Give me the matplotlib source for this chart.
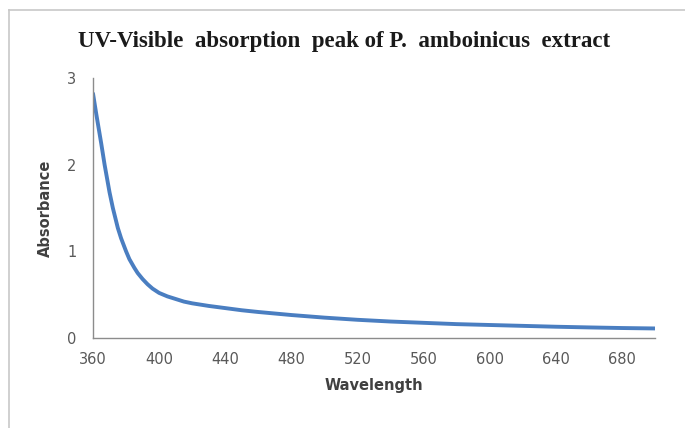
import numpy as np
import matplotlib
matplotlib.use("Agg")
import matplotlib.pyplot as plt
from matplotlib.lines import Line2D

# data
wavelength = [360, 362, 365, 367, 370, 372, 375, 377, 380, 382, 385, 387, 390, 393,
              396, 400, 405, 410, 415, 420, 430, 440, 450, 460, 480, 500, 520, 540,
              560, 580, 600, 620, 640, 660, 680, 700]
absorbance = [2.82, 2.58, 2.24, 2.00, 1.68, 1.50, 1.27, 1.15, 1.00, 0.91, 0.81, 0.75,
              0.68, 0.62, 0.57, 0.52, 0.48, 0.45, 0.42, 0.40, 0.37, 0.345, 0.32, 0.30,
              0.265, 0.235, 0.21, 0.19, 0.175, 0.16, 0.15, 0.14, 0.13, 0.122, 0.115, 0.11]
x_ticks = [360, 400, 440, 480, 520, 560, 600, 640, 680]
y_ticks = [0, 1, 2, 3]

fig = plt.figure(figsize=(6.85, 4.28), dpi=100)
ax = fig.add_axes([0.1358, 0.2103, 0.8202, 0.6075])

ax.plot(wavelength, absorbance, color="#4A7EC1", linewidth=2.8,
        solid_capstyle="round", solid_joinstyle="round")

ax.set_xlim(360, 700)
ax.set_ylim(0, 3)
ax.set_xticks(x_ticks)
ax.set_yticks(y_ticks)
ax.tick_params(length=0, labelsize=10.5, labelcolor="#595959", pad=10)
ax.tick_params(axis="y", pad=12)

for s in ["top", "right"]:
    ax.spines[s].set_visible(False)
for s in ["left", "bottom"]:
    ax.spines[s].set_color("#8C8C8C")
    ax.spines[s].set_linewidth(1)

ax.set_xlabel("Wavelength", fontsize=10.5, fontweight="bold", color="#404040", labelpad=8)
ax.set_ylabel("Absorbance", fontsize=10.5, fontweight="bold", color="#404040", labelpad=10)

fig.text(0.503, 1 - 42 / 428, "UV-Visible  absorption  peak of P.  amboinicus  extract",
         ha="center", va="center", fontsize=16.5, fontweight="bold",
         family="Liberation Serif", color="#1a1a1a")

# outer frame (top and left edges only)
fig.add_artist(Line2D([9 / 685, 9 / 685], [0, 1 - 10 / 428], transform=fig.transFigure,
                      color="#C8C8C8", linewidth=1.2))
fig.add_artist(Line2D([9 / 685, 1], [1 - 10 / 428, 1 - 10 / 428], transform=fig.transFigure,
                      color="#C8C8C8", linewidth=1.2))

fig.savefig("out.png", dpi=100)
